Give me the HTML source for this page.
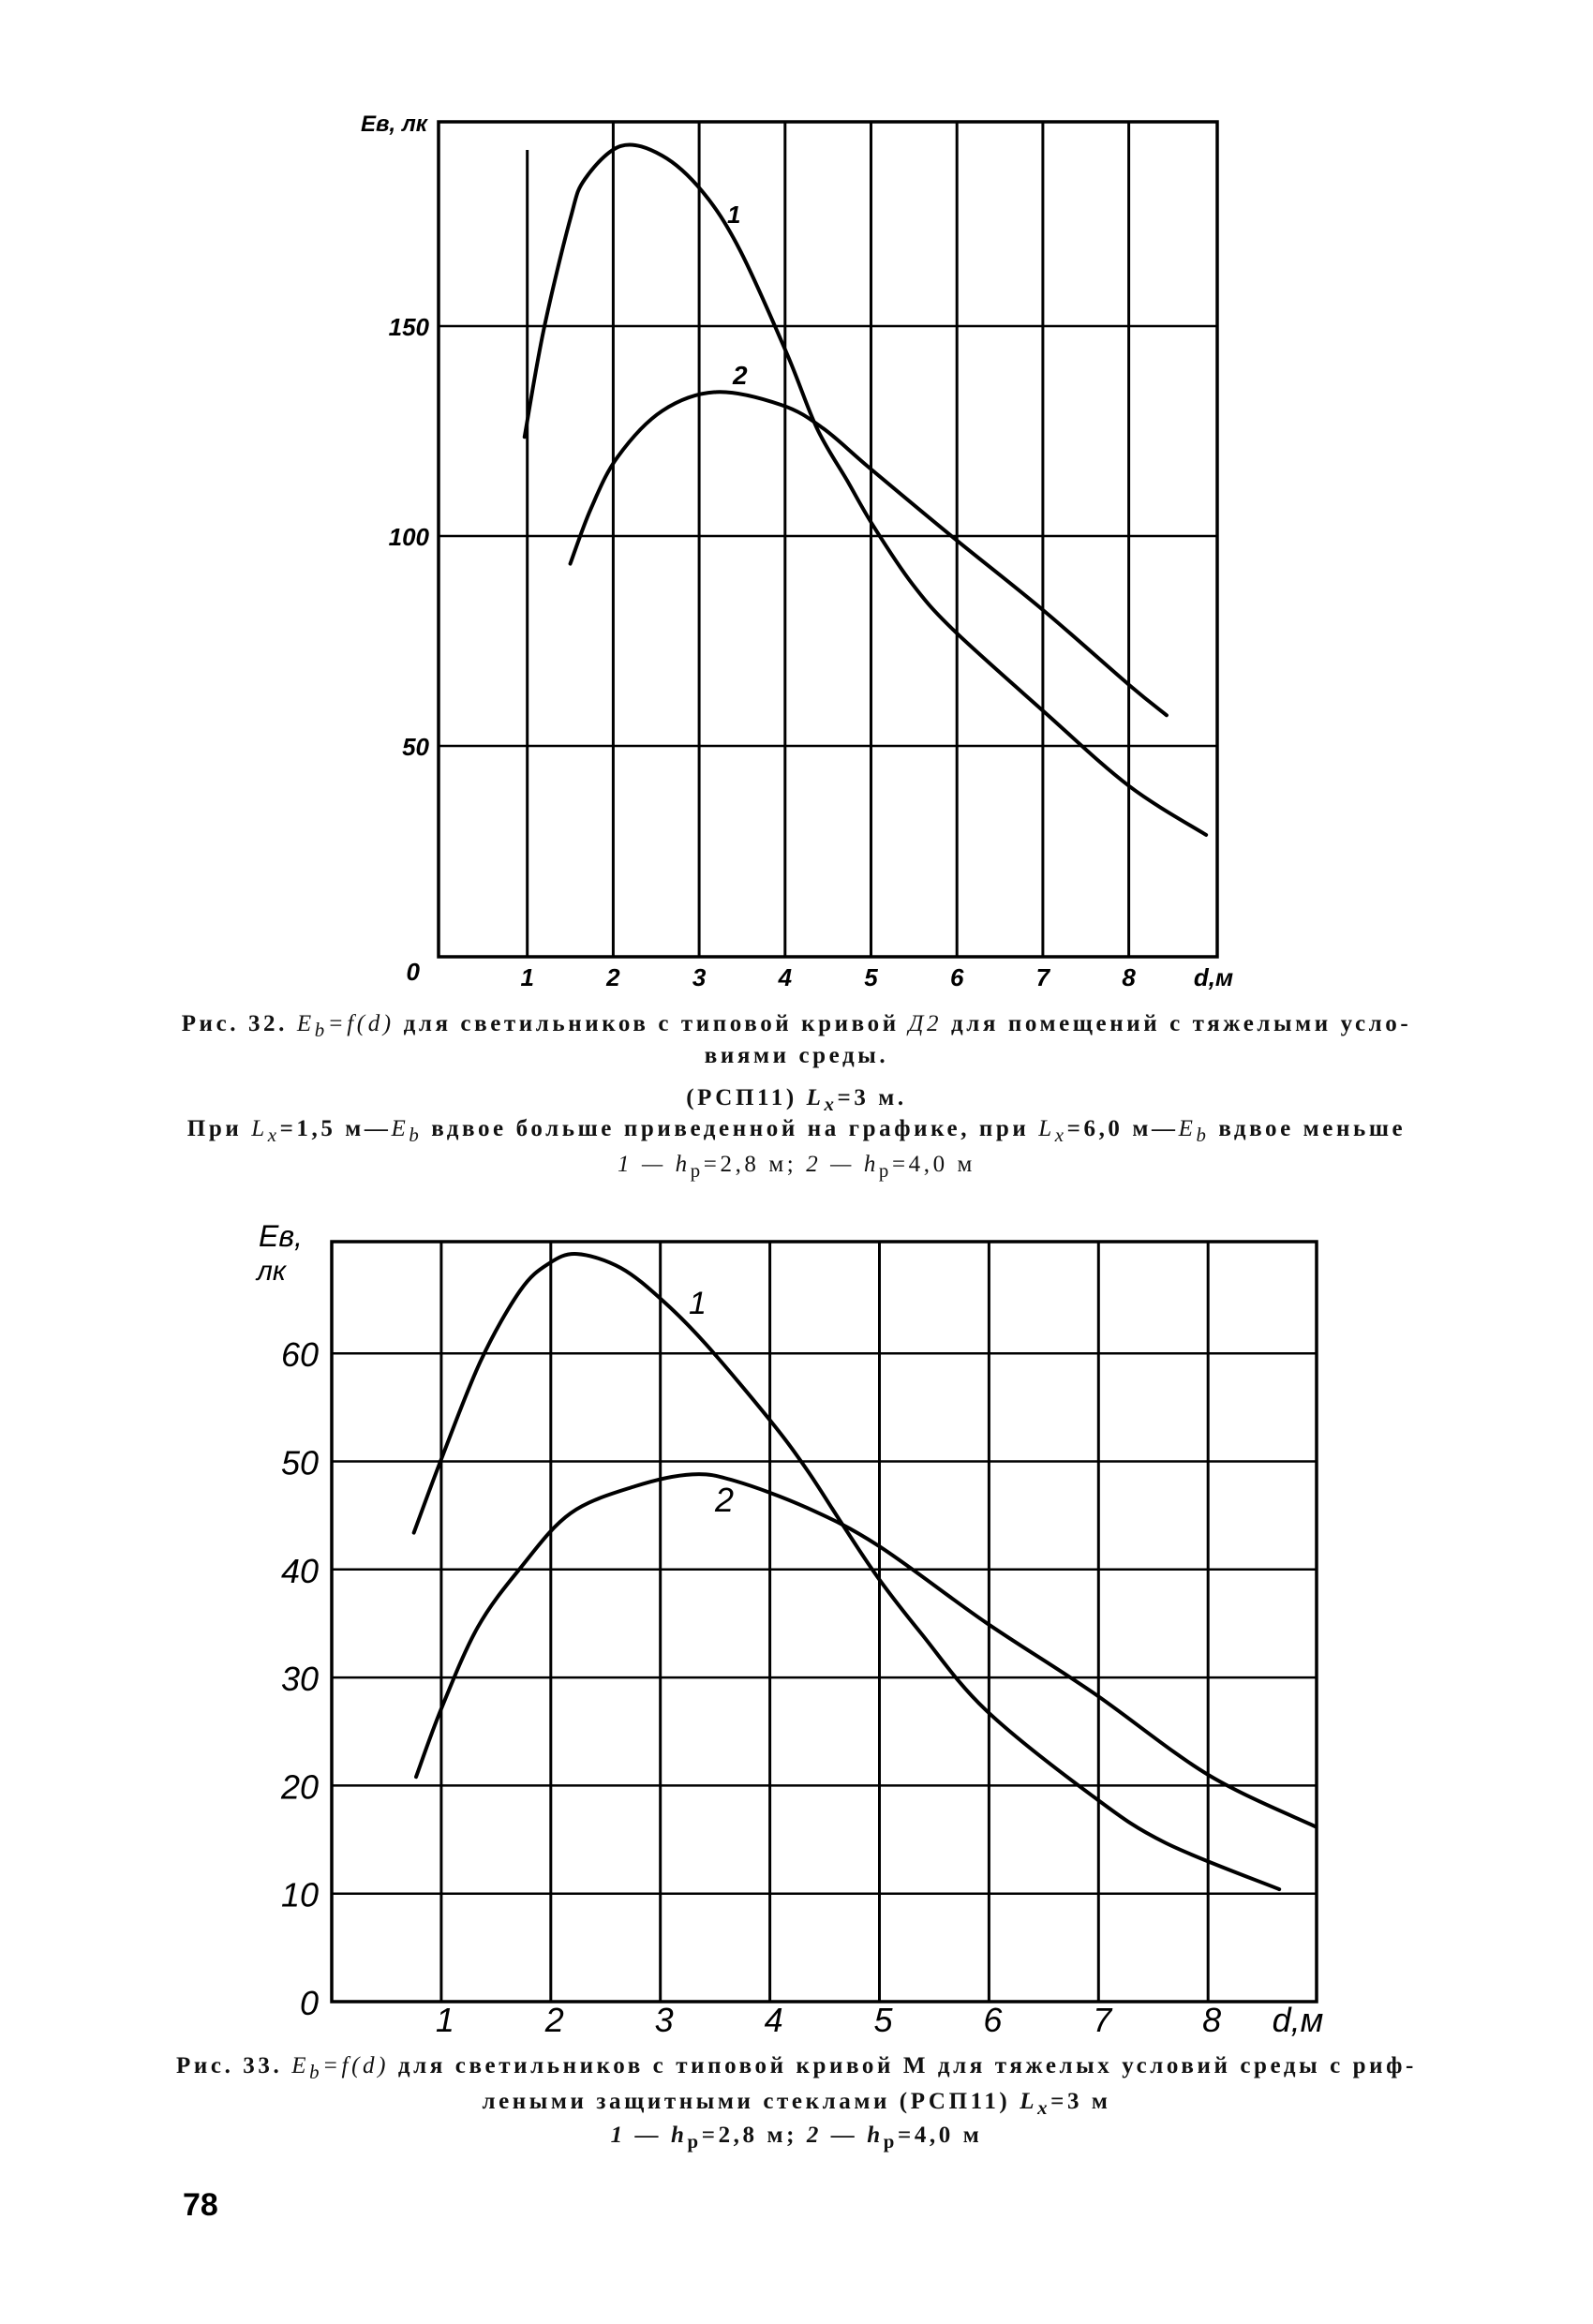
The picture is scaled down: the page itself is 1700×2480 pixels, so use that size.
<!DOCTYPE html>
<html><head><meta charset="utf-8"><style>
body{margin:0;background:#fff;}
#p{position:relative;width:1700px;height:2480px;overflow:hidden;font-family:"Liberation Serif",serif;}
.cap{position:absolute;left:100px;width:1500px;text-align:center;font-size:25px;font-weight:bold;color:#111;letter-spacing:3.6px;white-space:nowrap;}
</style></head><body><div id="p">
<svg id="s" width="1700" height="2480" style="position:absolute;left:0;top:0" font-family="Liberation Sans, sans-serif" font-style="italic" font-weight="bold"></svg>
<div class="cap" style="top:1079px">Рис. 32. <i style="font-weight:normal">E<sub>b</sub>=f(d)</i> для светильников с типовой кривой <i style="font-weight:normal">Д2</i> для помещений с тяжелыми усло-</div>
<div class="cap" style="top:1113px">виями среды.</div>
<div class="cap" style="top:1158px">(РСП11) <i>L<sub>x</sub></i>=3 м.</div>
<div class="cap" style="top:1191px">При <i style="font-weight:normal">L<sub>x</sub></i>=1,5 м—<i style="font-weight:normal">E<sub>b</sub></i> вдвое больше приведенной на графике, при <i style="font-weight:normal">L<sub>x</sub></i>=6,0 м—<i style="font-weight:normal">E<sub>b</sub></i> вдвое меньше</div>
<div class="cap" style="top:1229px;font-weight:normal"><i>1 — h</i><sub>р</sub>=2,8 м; <i>2 — h</i><sub>р</sub>=4,0 м</div>
<div class="cap" style="top:2191px">Рис. 33. <i style="font-weight:normal">E<sub>b</sub>=f(d)</i> для светильников с типовой кривой М для тяжелых условий среды с риф-</div>
<div class="cap" style="top:2229px">леными защитными стеклами (РСП11) <i>L<sub>x</sub></i>=3 м</div>
<div class="cap" style="top:2265px"><i>1 — h</i><sub>р</sub>=2,8 м; <i>2 — h</i><sub>р</sub>=4,0 м</div>
<div style="position:absolute;left:195px;top:2334px;font-family:'Liberation Sans',sans-serif;font-weight:bold;font-size:34px">78</div>
</div>
<script>
var s=document.getElementById('s'),h='';
function sm(pts,X,Y){var p=pts.map(function(a){return [X(a[0]),Y(a[1])]});var d='M'+p[0][0]+','+p[0][1];
for(var i=0;i<p.length-1;i++){var p0=p[i-1]||p[i],p1=p[i],p2=p[i+1],p3=p[i+2]||p2;
d+=' C'+(p1[0]+(p2[0]-p0[0])/6)+','+(p1[1]+(p2[1]-p0[1])/6)+' '+(p2[0]-(p3[0]-p1[0])/6)+','+(p2[1]-(p3[1]-p1[1])/6)+' '+p2[0]+','+p2[1];}
return '<path d="'+d+'" fill="none" stroke="#000" stroke-width="4" stroke-linecap="round"/>';}
// chart 1
(function(){var x0=471,xu=91.7,y0=1020,yu=4.48,L=468,R=1299,T=130,B=1021;
var X=function(v){return x0+v*xu},Y=function(v){return y0-v*yu};
for(var i=1;i<=8;i++)h+='<line x1="'+X(i)+'" y1="'+(i==1?160:T)+'" x2="'+X(i)+'" y2="'+B+'" stroke="#000" stroke-width="3"/>';
[50,100,150].forEach(function(v){h+='<line x1="'+L+'" y1="'+Y(v)+'" x2="'+R+'" y2="'+Y(v)+'" stroke="#000" stroke-width="2.5"/>';
h+='<text x="458" y="'+(Y(v)+10)+'" font-size="26" text-anchor="end">'+v+'</text>';});
h+='<rect x="'+L+'" y="'+T+'" width="'+(R-L)+'" height="'+(B-T)+'" fill="none" stroke="#000" stroke-width="3.5"/>';
h+='<text x="448" y="1046" font-size="26" text-anchor="end">0</text>';
for(var i=1;i<=8;i++)h+='<text x="'+X(i)+'" y="1052" font-size="26" text-anchor="middle">'+i+'</text>';
h+='<text x="1295" y="1052" font-size="26" text-anchor="middle">d,м</text>';
h+='<text x="385" y="140" font-size="24">Eв, лк</text>';
h+='<text x="776" y="238" font-size="26">1</text><text x="782" y="410" font-size="28">2</text>';
h+=sm([[0.968,123.6],[1.19,149],[1.5,175.5],[1.67,185],[2.09,192.9],[2.57,190.6],[3.04,182],[3.47,168.3],[4.02,143.5],[4.37,125.7],[4.72,113.3],[5.03,102.3],[5.48,88.6],[5.96,77.6],[7,58.4],[8,40.5],[8.9,28.8]],X,Y);
h+=sm([[1.5,93.4],[1.74,106.5],[2.05,118.8],[2.57,129.8],[3.2,134.3],[3.96,131.2],[4.44,125.7],[4.99,116.1],[5.96,99.6],[7,82.4],[8,64.6],[8.44,57.3]],X,Y);})();
// chart 2
(function(){var x0=354,xu=116.9,y0=2136,yu=11.53,L=354,R=1405,T=1325,B=2136;
var X=function(v){return x0+v*xu},Y=function(v){return y0-v*yu};
for(var i=1;i<=8;i++)h+='<line x1="'+X(i)+'" y1="'+T+'" x2="'+X(i)+'" y2="'+B+'" stroke="#000" stroke-width="3"/>';
[10,20,30,40,50,60].forEach(function(v){h+='<line x1="'+L+'" y1="'+Y(v)+'" x2="'+R+'" y2="'+Y(v)+'" stroke="#000" stroke-width="2.5"/>';
h+='<text x="340" y="'+(Y(v)+14)+'" font-size="36" font-weight="normal" text-anchor="end">'+v+'</text>';});
h+='<rect x="'+L+'" y="'+T+'" width="'+(R-L)+'" height="'+(B-T)+'" fill="none" stroke="#000" stroke-width="3.5"/>';
h+='<text x="340" y="2150" font-size="36" font-weight="normal" text-anchor="end">0</text>';
for(var i=1;i<=8;i++)h+='<text x="'+(X(i)+4)+'" y="2168" font-size="36" font-weight="normal" text-anchor="middle">'+i+'</text>';
h+='<text x="1385" y="2168" font-size="36" font-weight="normal" text-anchor="middle">d,м</text>';
h+='<text x="276" y="1330" font-size="32" font-weight="normal">Eв,</text><text x="274" y="1366" font-size="30" font-weight="normal">лк</text>';
h+='<text x="735" y="1402" font-size="34" font-weight="normal">1</text><text x="763" y="1613" font-size="36" font-weight="normal">2</text>';
h+=sm([[0.75,43.4],[1,50.2],[1.36,59.3],[1.72,65.8],[1.98,68.3],[2.24,69.2],[2.64,67.9],[3.03,64.8],[3.42,60.8],[4.01,53.7],[4.34,49.2],[4.66,44.2],[4.99,39.2],[5.38,34.1],[5.97,27],[6.95,19],[7.61,14.7],[8.65,10.4]],X,Y);
h+=sm([[0.77,20.8],[1,27.1],[1.33,34.6],[1.72,40.1],[2.18,45.2],[2.77,47.7],[3.29,48.8],[3.68,48.2],[4.34,45.7],[4.99,42.2],[5.97,35.1],[6.95,28.6],[8,21],[8.98,16.2]],X,Y);})();
s.innerHTML=h;
</script>
</body></html>
